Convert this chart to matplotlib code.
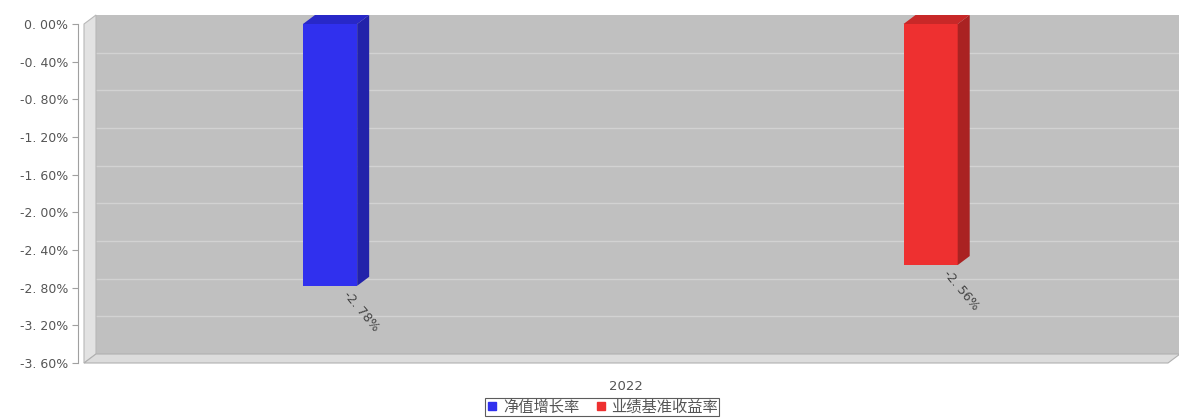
import matplotlib
matplotlib.use('Agg')
from matplotlib import pyplot as plt
from matplotlib.patches import Polygon
from matplotlib.lines import Line2D
import matplotlib.transforms as mtransforms
import numpy as np

plt.rcParams['font.family'] = ['Noto Sans CJK SC', 'DejaVu Sans']

# data
category = '2022'
series = ['净值增长率', '业绩基准收益率']
values = [-2.78, -2.56]
bar_x = [0.227, 0.781]   # where each series bar sits inside the 2022 group
front_colors = ['#3030ee', '#ee3030']
side_colors = ['#2222aa', '#aa2222']
top_colors = ['#2828c8', '#c82828']
yticks = [0, -0.4, -0.8, -1.2, -1.6, -2.0, -2.4, -2.8, -3.2, -3.6]

W, H = 1179, 419
fig = plt.figure(figsize=(W / 100, H / 100), dpi=100)
# front plane: left 84px, right 1168px, top 24px (0%), bottom 363px (-3.6%)
ax = fig.add_axes([84 / W, (H - 363) / H, 1084 / W, 339 / H])
ax.set_xlim(0, 1)
ax.set_ylim(-3.6, 0)
ax.patch.set_alpha(0)
for s in ['top', 'right', 'bottom']:
    ax.spines[s].set_visible(False)
ax.spines['left'].set_position(('outward', 4))
ax.spines['left'].set_color('#a0a0a0')
ax.set_yticks(yticks)
ax.set_yticklabels([('%.2f' % v).replace('.', '. ') + '%' for v in yticks],
                   family=['DejaVu Sans'])
ax.tick_params(axis='y', colors='#a0a0a0', labelcolor='#555555', labelsize=9, length=4)
ax.set_xticks([0.5])
ax.set_xticklabels([category], family=['DejaVu Sans'])
ax.tick_params(axis='x', length=0, pad=12, labelcolor='#555555', labelsize=9.5)

DX, DY = 12, 9   # depth offset in pixels

def disp(x, y):
    return ax.transData.transform((x, y))

def poly(pts, color, z, ec='none'):
    p = Polygon(pts, closed=True, facecolor=color, edgecolor=ec, lw=0.8,
                transform=mtransforms.IdentityTransform(), zorder=z, clip_on=False)
    ax.add_artist(p)

# back wall
bl, tr = disp(0, -3.6), disp(1, 0)
poly([(bl[0] + DX, bl[1] + DY), (tr[0] + DX, bl[1] + DY),
      (tr[0] + DX, tr[1] + DY), (bl[0] + DX, tr[1] + DY)], '#c0c0c0', 0.5)
# grid lines on back wall
for v in yticks[1:-1]:
    a, b = disp(0, v), disp(1, v)
    ax.add_artist(Line2D([a[0] + DX, b[0] + DX], [a[1] + DY, b[1] + DY], clip_on=False,
                         color='#d2d2d2', lw=1, transform=mtransforms.IdentityTransform(), zorder=0.6))
# left wall
poly([(bl[0], bl[1]), (bl[0], tr[1]), (bl[0] + DX, tr[1] + DY), (bl[0] + DX, bl[1] + DY)],
     '#e2e2e2', 0.7, ec='#b8b8b8')
# floor
poly([(bl[0], bl[1]), (tr[0], bl[1]), (tr[0] + DX, bl[1] + DY), (bl[0] + DX, bl[1] + DY)],
     '#dcdcdc', 0.7, ec='#b0b0b0')

# bars
bw = 0.05
for x, v, fc, sc, tc in zip(bar_x, values, front_colors, side_colors, top_colors):
    x0, x1 = x - bw / 2, x + bw / 2
    ax.bar(x, v, width=bw, bottom=0, color=fc, zorder=3)
    p00, p10, p1v = disp(x0, 0), disp(x1, 0), disp(x1, v)
    poly([p10, p1v, (p1v[0] + DX, p1v[1] + DY), (p10[0] + DX, p10[1] + DY)], sc, 3.1)
    poly([p00, p10, (p10[0] + DX, p10[1] + DY), (p00[0] + DX, p00[1] + DY)], tc, 3.1)
    ax.annotate(('%.2f' % v).replace('.', '. ') + '%', (x1, v), xytext=(-5, -2),
                textcoords='offset points', rotation=-50, rotation_mode='anchor',
                ha='left', va='top', fontsize=9, color='#444444', zorder=4,
                family=['DejaVu Sans'])

handles = [Line2D([], [], marker='s', ls='none', color=c, markersize=6) for c in front_colors]
leg = fig.legend(handles, series, loc='center', bbox_to_anchor=(602 / W, 12 / H),
                 ncol=2, frameon=True, fancybox=False, fontsize=11, handletextpad=0.3,
                 columnspacing=1.0, borderpad=0.05, handlelength=0.8, labelcolor='#555555')
leg.get_frame().set_edgecolor('#333333')
leg.get_frame().set_linewidth(0.8)

plt.savefig('out.png', dpi=100)
